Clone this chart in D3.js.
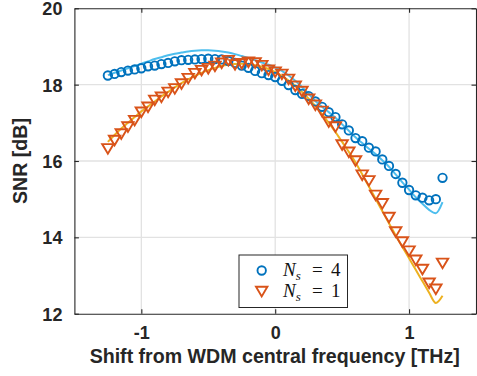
<!DOCTYPE html>
<html><head><meta charset="utf-8">
<script src="https://cdn.jsdelivr.net/npm/d3@7"></script>
<style>body{margin:0;background:#fff;} svg{display:block;}</style>
</head><body><svg id="c" width="477" height="376"></svg>
<script>
const freq = [-1.25,-1.2,-1.15,-1.1,-1.05,-1.0,-0.95,-0.9,-0.85,-0.8,-0.75,-0.7,-0.65,-0.6,-0.55,-0.5,-0.45,-0.4,-0.35,-0.3,-0.25,-0.2,-0.15,-0.1,-0.05,0,0.05,0.1,0.15,0.2,0.25,0.3,0.35,0.4,0.45,0.5,0.55,0.6,0.65,0.7,0.75,0.8,0.85,0.9,0.95,1.0,1.05,1.1,1.15,1.2,1.25];
const snrNs4 = [18.24,18.28,18.33,18.37,18.40,18.43,18.48,18.50,18.54,18.57,18.61,18.64,18.65,18.66,18.67,18.68,18.67,18.66,18.62,18.57,18.50,18.44,18.36,18.30,18.25,18.20,18.10,17.99,17.86,17.76,17.70,17.56,17.42,17.28,17.15,16.96,16.80,16.60,16.52,16.35,16.25,16.04,15.87,15.66,15.43,15.24,15.10,15.04,14.97,15.00,15.56];
const snrNs1 = [16.32,16.54,16.71,16.89,17.06,17.28,17.41,17.59,17.67,17.80,17.89,18.02,18.16,18.29,18.37,18.42,18.48,18.56,18.63,18.52,18.55,18.59,18.57,18.50,18.38,18.33,18.27,18.14,17.96,17.82,17.62,17.46,17.30,17.02,16.89,16.42,16.23,16.00,15.63,15.48,15.10,14.88,14.52,14.14,13.88,13.64,13.40,13.16,12.80,12.64,13.32];
const modelNs4 = [18.25,18.31,18.37,18.43,18.49,18.55,18.61,18.67,18.72,18.77,18.81,18.84,18.87,18.89,18.90,18.90,18.89,18.87,18.84,18.80,18.75,18.70,18.64,18.58,18.52,18.45,18.36,18.24,18.10,17.94,17.76,17.57,17.42,17.28,17.13,16.96,16.79,16.62,16.47,16.32,16.18,16.02,15.85,15.65,15.44,15.25,15.05,14.88,14.72,14.63,14.92];
const modelNs1 = [16.50,16.68,16.85,17.00,17.15,17.30,17.43,17.56,17.69,17.81,17.93,18.04,18.14,18.23,18.31,18.38,18.44,18.49,18.52,18.54,18.55,18.54,18.51,18.47,18.41,18.33,18.23,18.11,17.97,17.81,17.63,17.44,17.23,17.00,16.76,16.50,16.24,15.96,15.65,15.33,15.01,14.69,14.37,14.05,13.75,13.45,13.15,12.85,12.55,12.28,12.47];
const xTicks = [-1,0,1];
const yTicks = [12,14,16,18,20];
const legendValues = ["4","1"];
const xLabel = "Shift from WDM central frequency [THz]";
const yLabel = "SNR [dB]";

const L=74.4,R=476,T=8.3,B=313.7;
const axisColor="#262626";
const svg=d3.select("#c");
const x=d3.scaleLinear().domain([-1.5,1.5]).range([L,R]);
const y=d3.scaleLinear().domain([12,20]).range([B,T]);

// grid
svg.append("g").selectAll("line").data(xTicks).join("line")
  .attr("x1",d=>x(d)).attr("x2",d=>x(d)).attr("y1",T).attr("y2",B)
  .attr("stroke","#e2e2e2").attr("stroke-width",1.3);
svg.append("g").selectAll("line").data(yTicks.slice(1,-1)).join("line")
  .attr("y1",d=>y(d)).attr("y2",d=>y(d)).attr("x1",L).attr("x2",R)
  .attr("stroke","#e2e2e2").attr("stroke-width",1.3);

// model lines
const line=d3.line().x((d,i)=>x(freq[i])).y(d=>y(d)).curve(d3.curveMonotoneX);
svg.append("path").datum(modelNs4).attr("d",line).attr("fill","none")
  .attr("stroke","#4DBEEE").attr("stroke-width",2);
svg.append("path").datum(modelNs1).attr("d",line).attr("fill","none")
  .attr("stroke","#EDB120").attr("stroke-width",2);

// markers
const tri="M-5.7,-4.7L5.7,-4.7L0,4.9Z";
svg.append("g").selectAll("circle").data(snrNs4).join("circle")
  .attr("cx",(d,i)=>x(freq[i])).attr("cy",d=>y(d)).attr("r",4.2)
  .attr("fill","none").attr("stroke","#0072BD").attr("stroke-width",1.9);
svg.append("g").selectAll("path").data(snrNs1).join("path")
  .attr("d",tri).attr("transform",(d,i)=>`translate(${x(freq[i])},${y(d)})`)
  .attr("fill","none").attr("stroke","#D95319").attr("stroke-width",1.9).attr("stroke-linejoin","miter");

// axes
const fmt=d=>String(d);
const gx=svg.append("g").attr("transform",`translate(0,${B})`)
  .call(d3.axisBottom(x).tickValues(xTicks).tickSize(-4.5).tickSizeOuter(0).tickPadding(13).tickFormat(fmt));
const gxt=svg.append("g").attr("transform",`translate(0,${T})`)
  .call(d3.axisTop(x).tickValues(xTicks).tickSize(-4.5).tickSizeOuter(0).tickFormat(""));
const gy=svg.append("g").attr("transform",`translate(${L},0)`)
  .call(d3.axisLeft(y).tickValues(yTicks).tickSize(-4.5).tickSizeOuter(0).tickPadding(12).tickFormat(fmt));
const gyr=svg.append("g").attr("transform",`translate(${R},0)`)
  .call(d3.axisRight(y).tickValues(yTicks).tickSize(-4.5).tickSizeOuter(0).tickFormat(""));
[gx,gxt,gy,gyr].forEach(g=>{
  g.select(".domain").attr("stroke",axisColor).attr("stroke-width",1.1);
  g.selectAll(".tick line").attr("stroke",axisColor).attr("stroke-width",1.1);
  g.selectAll("text").attr("fill",axisColor).style("font-family","'Liberation Sans',Arial,sans-serif")
    .style("font-size","18px").style("font-weight","bold");
});
gy.selectAll("text").attr("dy","0.36em");

// axis labels
svg.append("text").attr("x",(L+R)/2 - 0.5).attr("y",363).attr("text-anchor","middle")
  .attr("fill",axisColor).style("font-family","'Liberation Sans',Arial,sans-serif")
  .style("font-size","19.6px").style("font-weight","bold").text(xLabel);
svg.append("text").attr("transform",`translate(27,${(T+B)/2}) rotate(-90)`).attr("text-anchor","middle")
  .attr("fill",axisColor).style("font-family","'Liberation Sans',Arial,sans-serif")
  .style("font-size","19.6px").style("font-weight","bold").text(yLabel);

// legend
const lg=svg.append("g");
lg.append("rect").attr("x",239).attr("y",255).attr("width",108.5).attr("height",52.5)
  .attr("fill","#fff").attr("stroke",axisColor).attr("stroke-width",1);
const rows=[{v:legendValues[0],cy:270.5},{v:legendValues[1],cy:291.5}];
lg.append("circle").attr("cx",261.7).attr("cy",rows[0].cy).attr("r",4.2)
  .attr("fill","none").attr("stroke","#0072BD").attr("stroke-width",1.9);
lg.append("path").attr("d",tri).attr("transform",`translate(261.7,${rows[1].cy})`)
  .attr("fill","none").attr("stroke","#D95319").attr("stroke-width",1.9);
rows.forEach(r=>{
  const t=lg.append("text").attr("y",r.cy+5.5).attr("fill","#111")
    .style("font-family","'Liberation Serif','DejaVu Serif',serif").style("font-size","19px");
  t.append("tspan").attr("x",283).style("font-style","italic").text("N");
  t.append("tspan").attr("dy",4).style("font-style","italic").style("font-size","13px").text("s");
  t.append("tspan").attr("x",312).attr("dy",-4).text("=");
  t.append("tspan").attr("x",331).text(r.v);
});
</script></body></html>
